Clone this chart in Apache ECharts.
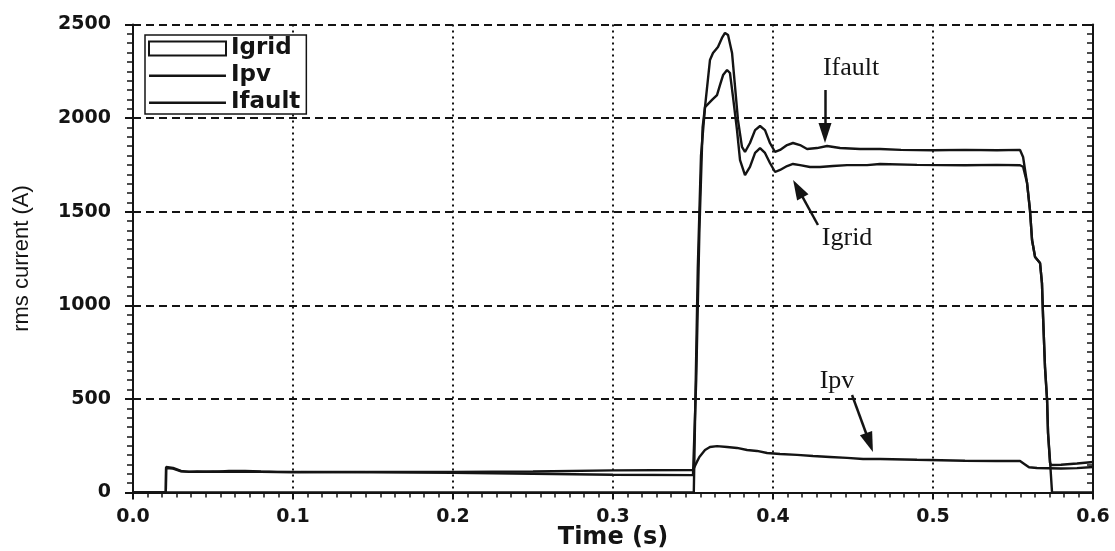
<!DOCTYPE html>
<html>
<head>
<meta charset="utf-8">
<title>rms current</title>
<script src="https://cdn.jsdelivr.net/npm/echarts@6/dist/echarts.min.js"></script>
<style>
  html, body { margin: 0; padding: 0; background: #fff; }
  #chart { width: 1115px; height: 551px; }
</style>
</head>
<body>
<div id="chart"></div>
<script>
// Time axis (s) and current axis (A)
const timeTicks = [0.0, 0.1, 0.2, 0.3, 0.4, 0.5, 0.6];
const currentTicks = [0, 500, 1000, 1500, 2000, 2500];

// Grid current [time s, rms A]
const igridCurve = [
  [0, 0], [0.0205, 0], [0.0207, 136], [0.025, 131], [0.03, 115], [0.035, 110],
  [0.04, 112], [0.05, 110], [0.06, 115], [0.07, 115], [0.08, 112], [0.09, 110],
  [0.1, 110], [0.15, 108], [0.2, 105], [0.25, 100], [0.3, 95], [0.35, 93],
  [0.3506, 93], [0.352, 600], [0.354, 1400], [0.356, 1950], [0.3575, 2059],
  [0.3619, 2097], [0.365, 2123], [0.3669, 2177], [0.3688, 2230], [0.3713, 2257],
  [0.3731, 2241], [0.375, 2113], [0.3775, 1936], [0.3794, 1776], [0.3825, 1696],
  [0.3856, 1739], [0.3888, 1814], [0.3919, 1840], [0.395, 1814], [0.3981, 1760],
  [0.4013, 1712], [0.4044, 1723], [0.4088, 1744], [0.4125, 1755], [0.4169, 1749],
  [0.4231, 1739], [0.4294, 1739], [0.4375, 1744], [0.4463, 1749], [0.4588, 1749],
  [0.4669, 1755], [0.49, 1750], [0.52, 1748], [0.54, 1750], [0.5544, 1748],
  [0.5563, 1740], [0.5588, 1653], [0.5606, 1509], [0.5619, 1349], [0.5638, 1258],
  [0.5669, 1226], [0.5681, 1119], [0.5688, 938], [0.57, 670], [0.5713, 494],
  [0.5719, 318], [0.5731, 160], [0.5738, 147], [0.58, 148], [0.59, 155], [0.6, 163]
];

// PV current [time s, rms A]
const ipvCurve = [
  [0, 0], [0.0205, 0], [0.0207, 130], [0.025, 128], [0.03, 113], [0.04, 110],
  [0.05, 112], [0.06, 110], [0.08, 110], [0.1, 108], [0.15, 110], [0.2, 110],
  [0.25, 112], [0.3, 118], [0.35, 120], [0.3506, 125], [0.3525, 165], [0.354, 190],
  [0.3575, 227], [0.3606, 243], [0.365, 248], [0.3713, 243], [0.3775, 238],
  [0.3838, 227], [0.39, 222], [0.3963, 211], [0.4044, 206], [0.415, 201],
  [0.425, 195], [0.4356, 190], [0.4463, 185], [0.4563, 179], [0.4669, 179],
  [0.49, 175], [0.52, 170], [0.54, 168], [0.5544, 168], [0.5575, 150],
  [0.56, 135], [0.565, 131], [0.58, 128], [0.59, 130], [0.6, 136]
];

// Fault current [time s, rms A]
const ifaultCurve = [
  [0, 0], [0.3505, 0], [0.3515, 500], [0.353, 1200], [0.355, 1800], [0.3575, 2059],
  [0.3606, 2310], [0.3625, 2348], [0.3656, 2380], [0.3681, 2428], [0.37, 2455],
  [0.3719, 2444], [0.3744, 2348], [0.3763, 2166], [0.3781, 1990], [0.3806, 1846],
  [0.3825, 1819], [0.3856, 1867], [0.3888, 1936], [0.3919, 1958], [0.395, 1936],
  [0.3981, 1867], [0.4013, 1819], [0.4044, 1830], [0.4088, 1856], [0.4125, 1867],
  [0.4169, 1856], [0.4213, 1835], [0.4275, 1840], [0.4338, 1851], [0.4419, 1840],
  [0.4544, 1835], [0.4669, 1835], [0.48, 1830], [0.5, 1828], [0.52, 1830],
  [0.54, 1828], [0.5544, 1830], [0.5563, 1792], [0.5588, 1653], [0.5606, 1509],
  [0.5619, 1349], [0.5638, 1258], [0.5669, 1226], [0.5681, 1119], [0.5688, 938],
  [0.57, 670], [0.5713, 494], [0.5719, 318], [0.5731, 174], [0.5744, 0], [0.6, 0]
];

// Callout labels: [name, time, current] and arrows: [name, fromT, fromA, toT, toA]
const calloutLabels = [
  ['Ifault', 0.4488, 2266],
  ['Igrid', 0.4463, 1357],
  ['Ipv', 0.4400, 595]
];
const calloutArrows = [
  ['Ifault', 0.4325, 2150, 0.4325, 1920],
  ['Igrid', 0.4281, 1429, 0.4156, 1623],
  ['Ipv', 0.4494, 521, 0.4603, 267]
];

const ink = '#141414';
const tickFont = { fontFamily: 'DejaVu Sans', fontWeight: 'bold', fontSize: 19, color: ink };
const lineIcon = 'path://M0,6H77V8.5H0Z M0,0H0.01V0.01H0Z M0,14H0.01V14.01H0Z';

function curveSeries(name, data, extra) {
  return Object.assign({
    name: name,
    type: 'line',
    data: data,
    symbol: 'none',
    showSymbol: false,
    smooth: false,
    lineStyle: { color: ink, width: 2.4 },
    itemStyle: { color: ink },
    z: 3
  }, extra || {});
}

function calloutFor(name) {
  const lab = calloutLabels.find(c => c[0] === name);
  const arr = calloutArrows.find(c => c[0] === name);
  return {
    markPoint: {
      silent: true,
      animation: false,
      data: [{
        coord: [lab[1], lab[2]],
        symbol: 'rect',
        symbolSize: 1,
        itemStyle: { color: 'rgba(0,0,0,0)' },
        label: {
          show: true,
          position: 'inside',
          formatter: lab[0],
          fontFamily: 'Liberation Serif',
          fontSize: 26,
          color: ink
        }
      }]
    },
    markLine: {
      silent: true,
      animation: false,
      symbol: ['none', 'triangle'],
      symbolSize: 16,
      label: { show: false },
      lineStyle: { color: ink, width: 2.5, type: 'solid' },
      data: [[
        { coord: [arr[1], arr[2]], symbol: 'none' },
        { coord: [arr[3], arr[4]], symbol: 'triangle', symbolSize: [13, 20] }
      ]]
    }
  };
}

const chart = echarts.init(document.getElementById('chart'), null, { renderer: 'canvas' });

const option = {
  animation: false,
  backgroundColor: '#fff',
  grid: { left: 133, right: 22, top: 24.5, bottom: 58.5, containLabel: false, outerBoundsMode: 'none' },
  legend: {
    orient: 'vertical',
    left: 145,
    top: 35,
    padding: [2, 6, 0, 3],
    itemGap: 4,
    itemWidth: 77,
    itemHeight: 14,
    itemTextGap: 6,
    selectedMode: false,
    backgroundColor: '#fff',
    borderColor: ink,
    borderWidth: 1.5,
    textStyle: { fontFamily: 'DejaVu Sans', fontWeight: 'bold', fontSize: 23, lineHeight: 23, color: ink },
    data: [
      { name: 'Igrid', icon: 'rect', itemStyle: { color: '#fff', borderColor: ink, borderWidth: 2 } },
      { name: 'Ipv', icon: lineIcon, itemStyle: { color: ink, borderWidth: 0 } },
      { name: 'Ifault', icon: lineIcon, itemStyle: { color: ink, borderWidth: 0 } }
    ]
  },
  xAxis: {
    type: 'value',
    min: timeTicks[0],
    max: timeTicks[timeTicks.length - 1],
    interval: timeTicks[1] - timeTicks[0],
    name: 'Time (s)',
    nameLocation: 'middle',
    nameGap: 33,
    nameMoveOverlap: false,
    nameTextStyle: { fontFamily: 'DejaVu Sans', fontWeight: 'bold', fontSize: 24, color: ink },
    axisLine: { show: true, onZero: false, lineStyle: { color: ink, width: 2 } },
    axisTick: { show: true, inside: false, length: 7, lineStyle: { color: ink, width: 2 } },
    minorTick: { show: true, splitNumber: 11, length: 5, lineStyle: { color: ink, width: 1.5 } },
    axisLabel: Object.assign({}, tickFont, { margin: 15, formatter: v => v.toFixed(1) }),
    splitLine: { show: true, lineStyle: { color: ink, width: 2, type: [2, 4] } }
  },
  yAxis: [
    {
      type: 'value',
      position: 'left',
      min: currentTicks[0],
      max: currentTicks[currentTicks.length - 1],
      interval: currentTicks[1] - currentTicks[0],
      name: 'rms current (A)',
      nameLocation: 'middle',
      nameGap: 100,
      nameMoveOverlap: false,
      nameRotate: 90,
      nameTextStyle: { fontFamily: 'Liberation Sans', fontSize: 22, color: ink },
      axisLine: { show: true, onZero: false, lineStyle: { color: ink, width: 2 } },
      axisTick: { show: true, inside: false, length: 8, lineStyle: { color: ink, width: 2 } },
      minorTick: { show: true, splitNumber: 10, length: 6, lineStyle: { color: ink, width: 1.5 } },
      axisLabel: Object.assign({}, tickFont, { margin: 22, formatter: v => String(v) }),
      splitLine: { show: true, lineStyle: { color: ink, width: 2, type: [8, 5] } }
    },
    {
      type: 'value',
      position: 'right',
      min: currentTicks[0],
      max: currentTicks[currentTicks.length - 1],
      interval: currentTicks[1] - currentTicks[0],
      axisLine: { show: true, onZero: false, lineStyle: { color: ink, width: 2 } },
      axisTick: { show: true, inside: true, length: 8, lineStyle: { color: ink, width: 2 } },
      minorTick: { show: true, splitNumber: 10, length: 6, lineStyle: { color: ink, width: 1.5 } },
      axisLabel: { show: false },
      splitLine: { show: false }
    }
  ],
  series: [
    curveSeries('Igrid', igridCurve, calloutFor('Igrid')),
    curveSeries('Ipv', ipvCurve, calloutFor('Ipv')),
    curveSeries('Ifault', ifaultCurve, calloutFor('Ifault'))
  ]
};

chart.setOption(option);
</script>
</body>
</html>
